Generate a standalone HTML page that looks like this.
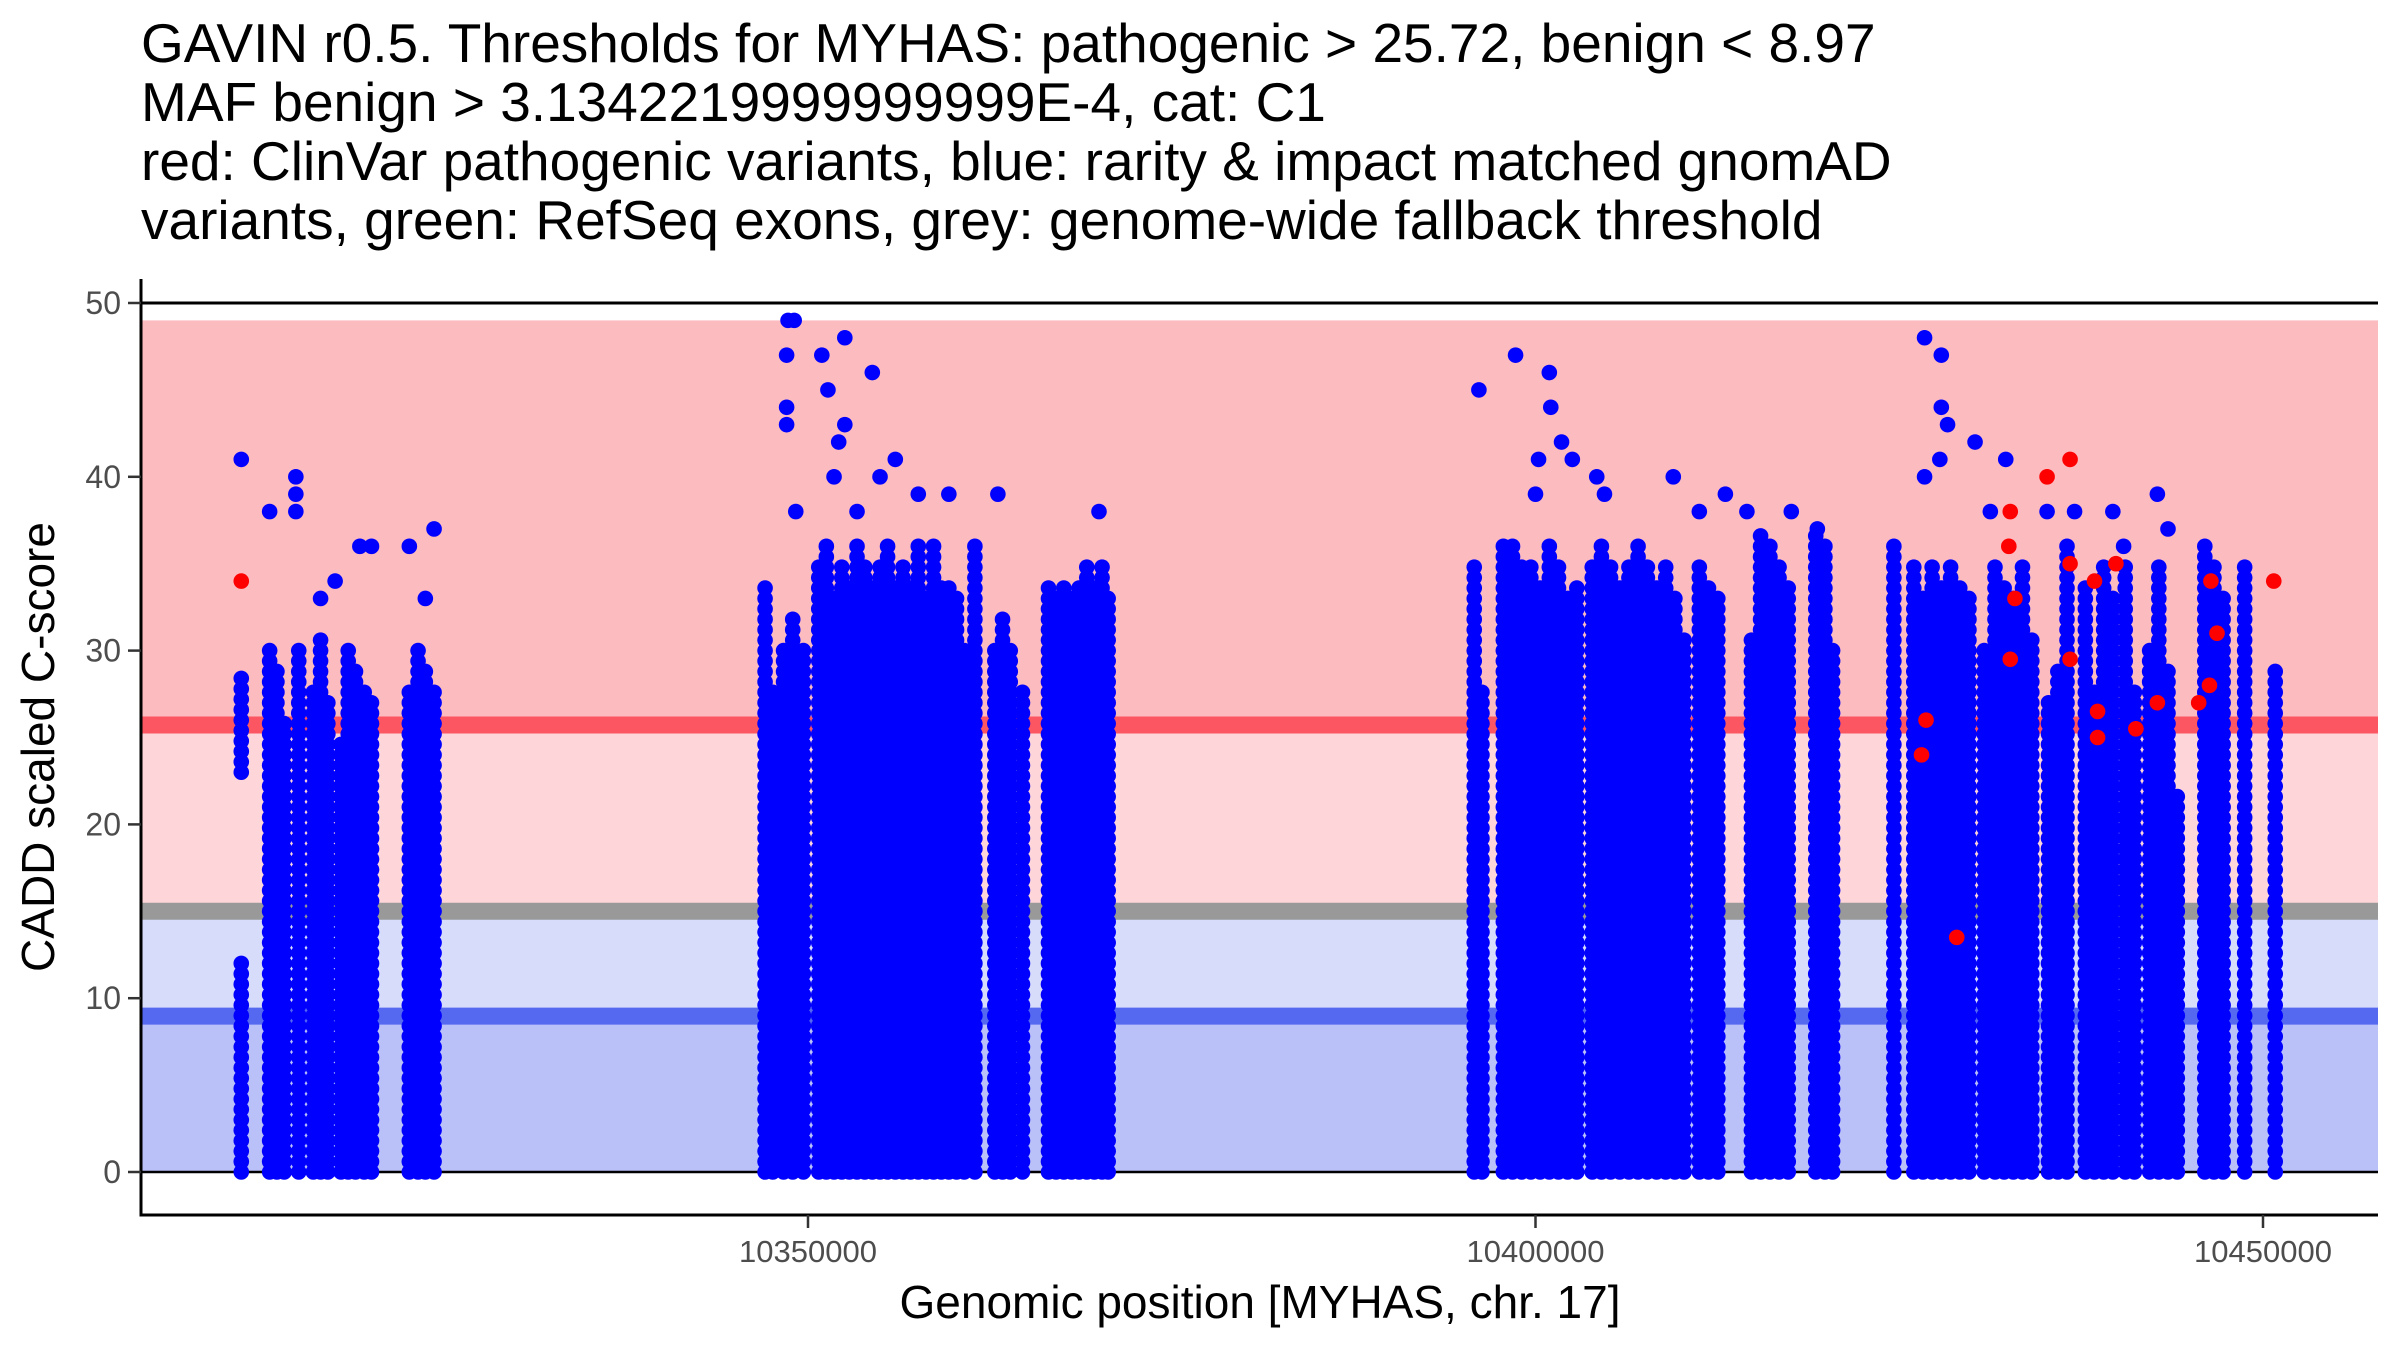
<!DOCTYPE html>
<html><head><meta charset="utf-8"><style>
html,body{margin:0;padding:0;background:#fff;width:2400px;height:1350px;overflow:hidden}
svg{display:block;font-family:"Liberation Sans",sans-serif}
</style></head><body>
<svg id="chart" width="2400" height="1350" viewBox="0 0 2400 1350" xmlns="http://www.w3.org/2000/svg">
<g font-size="55" fill="#000">
<text x="141" y="62">GAVIN r0.5. Thresholds for MYHAS: pathogenic &gt; 25.72, benign &lt; 8.97</text>
<text x="141" y="121">MAF benign &gt; 3.1342219999999999E-4, cat: C1</text>
<text x="141" y="180">red: ClinVar pathogenic variants, blue: rarity &amp; impact matched gnomAD</text>
<text x="141" y="239">variants, green: RefSeq exons, grey: genome-wide fallback threshold</text>
</g>
<g id="bands"></g>
<g id="pts"></g>
<g id="axes"></g>
<text x="1260" y="1318" font-size="46" text-anchor="middle" fill="#000">Genomic position [MYHAS, chr. 17]</text>
<text transform="translate(54,747) rotate(-90)" font-size="46" text-anchor="middle" fill="#000">CADD scaled C-score</text>
</svg>
<script>
const yTicks=[0,10,20,30,40,50];
const xTicks=[10350000,10400000,10450000];
const thresholds={pathogenic:25.72,benign:8.97,fallback:15,max:49};
// dense columns: [position, low score, high score]
const denseColumns=[
[10311050,0,12.5],[10311050,23,28.5],[10313000,0,30],[10313500,0,29],[10314000,0,26],[10315000,0,30],[10316000,0,28],[10316500,0,31],[10317000,0,27],[10317900,0,25],[10318400,0,30],[10318900,0,29],[10319500,0,28],[10320000,0,27],[10322600,0,28],[10323200,0,30],[10323700,0,29],[10324300,0,28],
[10347050,0,34],[10347580,0,28],[10348320,0,30],[10348950,0,32],[10349680,0,30],[10350740,0,35],[10351260,0,36],[10351790,0,33],[10352320,0,35],[10352840,0,34],[10353370,0,36],[10353900,0,35],[10354420,0,34],[10354950,0,35],[10355470,0,36],[10356000,0,34],[10356530,0,35],[10357050,0,34],[10357580,0,36],[10358110,0,33],[10358630,0,36],[10359160,0,34],[10359680,0,34],[10360210,0,33],[10360740,0,30],[10361470,0,36],[10362840,0,30],[10363370,0,32],[10363900,0,30],[10364740,0,28],[10366530,0,34],[10367050,0,33],[10367580,0,34],[10368110,0,33],[10368630,0,34],[10369160,0,35],[10369680,0,34],[10370210,0,35],[10370630,0,33],
[10395790,0,35],[10396320,0,28],[10397790,0,36],[10398420,0,36],[10399050,0,35],[10399680,0,35],[10400320,0,34],[10400950,0,36],[10401580,0,35],[10402210,0,33],[10402840,0,34],[10403900,0,35],[10404530,0,36],[10405160,0,35],[10405790,0,34],[10406420,0,35],[10407050,0,36],[10407690,0,35],[10408320,0,34],[10408950,0,35],[10409580,0,33],[10410210,0,31],[10411260,0,35],[10411890,0,34],[10412530,0,33],[10414840,0,31],[10415470,0,37],[10416110,0,36],[10416740,0,35],[10417370,0,34],[10419260,0,37],[10419890,0,36],[10420420,0,30],
[10424630,0,36],[10426000,0,35],[10426630,0,33],[10427260,0,35],[10427890,0,34],[10428530,0,35],[10429160,0,34],[10429790,0,33],[10430840,0,30],[10431580,0,35],[10432210,0,34],[10432840,0,33],[10433470,0,35],[10434110,0,31],[10435260,0,27],[10435900,0,29],[10436530,0,36],[10437790,0,34],[10438420,0,28],[10439050,0,35],[10439680,0,33],[10440530,0,35],[10441160,0,28],[10442210,0,30],[10442840,0,35],[10443470,0,29],[10444110,0,22],[10446000,0,36],[10446630,0,35],[10447260,0,33],[10448740,0,35],[10450840,0,29]
];
const bluePositions=[10311050,10313000,10314800,10314800,10314800,10317500,10316500,10319200,10320000,10322600,10324300,10323700,10348630,10349050,10348530,10348530,10348530,10350950,10352530,10351370,10352110,10352530,10354420,10351790,10353370,10354950,10356000,10357580,10359680,10363050,10370000,10349160,10396110,10398630,10400950,10401050,10400210,10401790,10402530,10400000,10404210,10404740,10409470,10413050,10414530,10417580,10411260,10419370,10426740,10427890,10427890,10428320,10427790,10426740,10430210,10431260,10432320,10435160,10437050,10439680,10440420,10442740,10443470];
const blueScores=[41,38,40,39,38,34,33,36,36,36,37,33,49,49,47,44,43,47,48,45,42,43,46,40,38,40,41,39,39,39,38,38,45,47,46,44,41,42,41,39,40,39,40,39,38,38,38,37,48,47,44,43,41,40,42,38,41,38,38,38,36,39,37];
const redPositions=[10311050,10432630,10432530,10432950,10432630,10435160,10436740,10436740,10436740,10438630,10438630,10439890,10441260,10438420,10442740,10445580,10446320,10446840,10446420,10450740,10426840,10426530,10428950];
const redScores=[34,38,36,33,29.5,40,41,35,29.5,26.5,25,35,25.5,34,27,27,28,31,34,34,26,24,13.5];

const NS='http://www.w3.org/2000/svg';
const X0=141,X1=2378,R=7.8;
function sx(g){return 808+(g-10350000)/50000*727.5;}
function sy(v){return 1172-v*17.38;}
function mk(tag,attrs,parent){const e=document.createElementNS(NS,tag);for(const k in attrs)e.setAttribute(k,attrs[k]);parent.appendChild(e);return e;}
const bands=document.getElementById('bands');
let r;
r=mk('rect',{x:X0,y:sy(thresholds.max),width:X1-X0,height:sy(thresholds.pathogenic)-sy(thresholds.max),fill:'#fcbbbf'},bands);


r=mk('rect',{x:X0,y:sy(thresholds.pathogenic),width:X1-X0,height:sy(thresholds.fallback)-sy(thresholds.pathogenic),fill:'#fed6da'},bands);


r=mk('rect',{x:X0,y:sy(thresholds.fallback),width:X1-X0,height:sy(thresholds.benign)-sy(thresholds.fallback),fill:'#d7dcfb'},bands);


r=mk('rect',{x:X0,y:sy(thresholds.benign),width:X1-X0,height:sy(0)-sy(thresholds.benign),fill:'#bac0f8'},bands);


r=mk('line',{x1:X0,x2:X1,y1:sy(thresholds.pathogenic),y2:sy(thresholds.pathogenic),stroke:'#fb5661','stroke-width':17},bands);


r=mk('line',{x1:X0,x2:X1,y1:sy(thresholds.fallback),y2:sy(thresholds.fallback),stroke:'#999999','stroke-width':17},bands);


r=mk('line',{x1:X0,x2:X1,y1:sy(thresholds.benign),y2:sy(thresholds.benign),stroke:'#5468f0','stroke-width':17},bands);


r=mk('line',{x1:X0,x2:X1,y1:sy(0),y2:sy(0),stroke:'#000','stroke-width':2.5},bands);


r=mk('line',{x1:X0,x2:X1,y1:sy(50),y2:sy(50),stroke:'#000','stroke-width':3},bands);



const pts=document.getElementById('pts');
denseColumns.forEach(c=>{
  for(let v=c[1];v<=c[2]+0.01;v+=0.6){
    const p=mk('circle',{cx:sx(c[0]),cy:sy(v),r:R,fill:'#0000ff'},pts);
    
    
  }
});
bluePositions.forEach((g,i)=>{
  const p=mk('circle',{cx:sx(g),cy:sy(blueScores[i]),r:R,fill:'#0000ff'},pts);
  
  
});
redPositions.forEach((g,i)=>{
  const p=mk('circle',{cx:sx(g),cy:sy(redScores[i]),r:R,fill:'#ff0000'},pts);
  
  
});

const axes=document.getElementById('axes');
r=mk('line',{x1:X0,x2:X0,y1:279,y2:1216,stroke:'#000','stroke-width':3},axes);


r=mk('line',{x1:X0-1.5,x2:X1,y1:1215,y2:1215,stroke:'#000','stroke-width':3},axes);


yTicks.forEach(t=>{
  const l=mk('line',{x1:X0-13,x2:X0,y1:sy(t),y2:sy(t),stroke:'#333','stroke-width':2.5},axes);
  
  
  const tx=mk('text',{x:X0-20,y:sy(t)+11,'font-size':32,'text-anchor':'end',fill:'#4d4d4d'},axes);
  tx.textContent=t;
  
  
});
xTicks.forEach(t=>{
  const l=mk('line',{x1:sx(t),x2:sx(t),y1:1215,y2:1228,stroke:'#333','stroke-width':2.5},axes);
  
  
  const tx=mk('text',{x:sx(t),y:1262,'font-size':31,'text-anchor':'middle',fill:'#4d4d4d'},axes);
  tx.textContent=t;
  
  
});
</script>
</body></html>
